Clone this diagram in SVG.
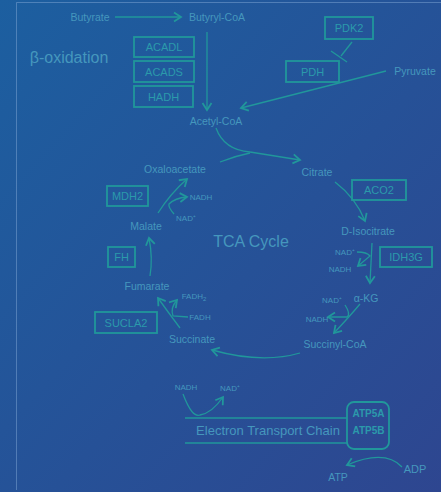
<svg xmlns="http://www.w3.org/2000/svg" width="441" height="492" viewBox="0 0 441 492">
<defs>
<linearGradient id="bg" x1="0" y1="0" x2="1" y2="1">
<stop offset="0" stop-color="#1c5fa0"/>
<stop offset="1" stop-color="#2e4690"/>
</linearGradient>
<marker id="ah" markerUnits="userSpaceOnUse" markerWidth="12" markerHeight="12" refX="8" refY="5" orient="auto" viewBox="0 0 12 10">
<path d="M1,0.5 L8,5 L1,9.5" fill="none" stroke="#21979b" stroke-width="1.8"/>
</marker>
</defs>
<style>
text{font-family:"Liberation Sans",Arial,sans-serif;fill:#4597bd;text-anchor:middle}
.m{font-size:10.5px}
.s{font-size:8px}
.b{font-size:11px;fill:#2b9aab}
.box{fill:none;stroke:#21979b;stroke-width:1.8}
.ln{fill:none;stroke:#21979b;stroke-width:1.3}
.ar{fill:none;stroke:#21979b;stroke-width:1.3;marker-end:url(#ah)}
</style>
<rect width="441" height="492" fill="url(#bg)"/>
<path d="M16.5,490 L16.5,2.5 L441,2.5" fill="none" stroke="#7fa6d4" stroke-opacity="0.5" stroke-width="1"/>

<g id="connectors">
<path class="ar" d="M115,17 L181,17"/>
<path class="ar" d="M207,32 L207,110"/>
<path class="ar" d="M386,71 L241,108"/>
<path class="ln" d="M352,42 L341,56"/>
<path class="ln" d="M331,51 L347,62"/>
<path class="ln" d="M216,128 Q224,150 250,152"/>
<path class="ln" d="M220,162 Q235,156 250,153"/>
<path class="ar" d="M250,152 L300,160"/>
<path class="ar" d="M335,182 Q356,198 365,221"/>
<path class="ar" d="M372,243 L370,283"/>
<path class="ar" d="M357,252 Q367,252 370,256 L358,266"/>
<path class="ar" d="M360,304 Q350,316 334,333"/>
<path class="ar" d="M345,305 Q351,314 347,317 L328,317"/>
<path class="ar" d="M300,353 Q262,364 212,350"/>
<path class="ar" d="M180,328 Q168,312 158,298"/>
<path class="ar" d="M188,317 L173,316 Q170,308 177,300"/>
<path class="ar" d="M150,276 Q153,258 149,238"/>
<path class="ar" d="M158,213 Q170,194 187,179"/>
<path class="ar" d="M174,214 Q168,207 169,204 Q175,198 187,197"/>
<path class="ar" d="M183,394 Q192,418 200,415 Q212,413 223,397"/>
<path class="ln" d="M185,418 L347,418"/>
<path class="ln" d="M185,443 L347,443"/>
<path class="ar" d="M402,467 Q385,449 347,465"/>
</g>

<g id="butyrate"><text class="m" x="90" y="21">Butyrate</text></g>
<g id="butyryl-coa"><text class="m" x="217" y="21">Butyryl-CoA</text></g>
<g id="beta-oxidation"><text x="69" y="63" style="font-size:16px">β-oxidation</text></g>
<g id="acadl"><rect class="box" x="134" y="37" width="60" height="20"/><text class="b" x="164" y="51">ACADL</text></g>
<g id="acads"><rect class="box" x="134" y="61" width="60" height="21"/><text class="b" x="164" y="75.5">ACADS</text></g>
<g id="hadh"><rect class="box" x="134" y="86" width="59" height="21"/><text class="b" x="163.5" y="100.5">HADH</text></g>
<g id="pdk2"><rect class="box" x="325" y="17" width="48" height="22"/><text class="b" x="349" y="32">PDK2</text></g>
<g id="pdh"><rect class="box" x="286" y="61" width="53" height="21"/><text class="b" x="312.5" y="75.5">PDH</text></g>
<g id="pyruvate"><text class="m" x="415" y="75">Pyruvate</text></g>
<g id="acetyl-coa"><text class="m" x="216" y="125">Acetyl-CoA</text></g>
<g id="citrate"><text class="m" x="317" y="176">Citrate</text></g>
<g id="aco2"><rect class="box" x="352" y="180" width="54" height="20"/><text class="b" x="379" y="194">ACO2</text></g>
<g id="d-isocitrate"><text class="m" x="368" y="235">D-Isocitrate</text></g>
<g id="idh3g"><rect class="box" x="380" y="247" width="52" height="20"/><text class="b" x="406" y="261">IDH3G</text></g>
<g id="nad-1"><text class="s" x="345" y="255">NAD⁺</text></g>
<g id="nadh-1"><text class="s" x="340" y="272">NADH</text></g>
<g id="akg"><text class="m" x="366" y="302">α-KG</text></g>
<g id="nad-2"><text class="s" x="332" y="303">NAD⁺</text></g>
<g id="nadh-2"><text class="s" x="317" y="322">NADH</text></g>
<g id="succinyl-coa"><text class="m" x="335" y="348">Succinyl-CoA</text></g>
<g id="succinate"><text class="m" x="192" y="343">Succinate</text></g>
<g id="sucla2"><rect class="box" x="95" y="312" width="62" height="21"/><text class="b" x="126" y="326.5">SUCLA2</text></g>
<g id="fadh2"><text class="s" x="194" y="299">FADH<tspan style="font-size:6px" dy="2">2</tspan></text></g>
<g id="fadh"><text class="s" x="200" y="320">FADH</text></g>
<g id="fumarate"><text class="m" x="147" y="290">Fumarate</text></g>
<g id="fh"><rect class="box" x="108" y="247" width="27" height="20"/><text class="b" x="121.5" y="261">FH</text></g>
<g id="malate"><text class="m" x="146" y="230">Malate</text></g>
<g id="mdh2"><rect class="box" x="107" y="186" width="41" height="20"/><text class="b" x="127.5" y="200">MDH2</text></g>
<g id="nadh-3"><text class="s" x="201" y="200">NADH</text></g>
<g id="nad-3"><text class="s" x="186" y="221">NAD⁺</text></g>
<g id="oxaloacetate"><text class="m" x="175" y="173">Oxaloacetate</text></g>
<g id="tca-cycle"><text x="251" y="247" style="font-size:16px">TCA Cycle</text></g>
<g id="nadh-4"><text class="s" x="186" y="390">NADH</text></g>
<g id="nad-4"><text class="s" x="230" y="391">NAD⁺</text></g>
<g id="etc"><text x="268" y="435" style="font-size:13px">Electron Transport Chain</text></g>
<g id="atp-synthase"><rect class="box" x="347" y="402" width="42" height="47" rx="7"/><text class="b" x="368.5" y="417" style="font-weight:bold;font-size:10px">ATP5A</text><text class="b" x="368.5" y="434" style="font-weight:bold;font-size:10px">ATP5B</text></g>
<g id="adp"><text class="m" x="415" y="473" style="font-size:11px">ADP</text></g>
<g id="atp"><text class="m" x="338" y="481">ATP</text></g>
</svg>
